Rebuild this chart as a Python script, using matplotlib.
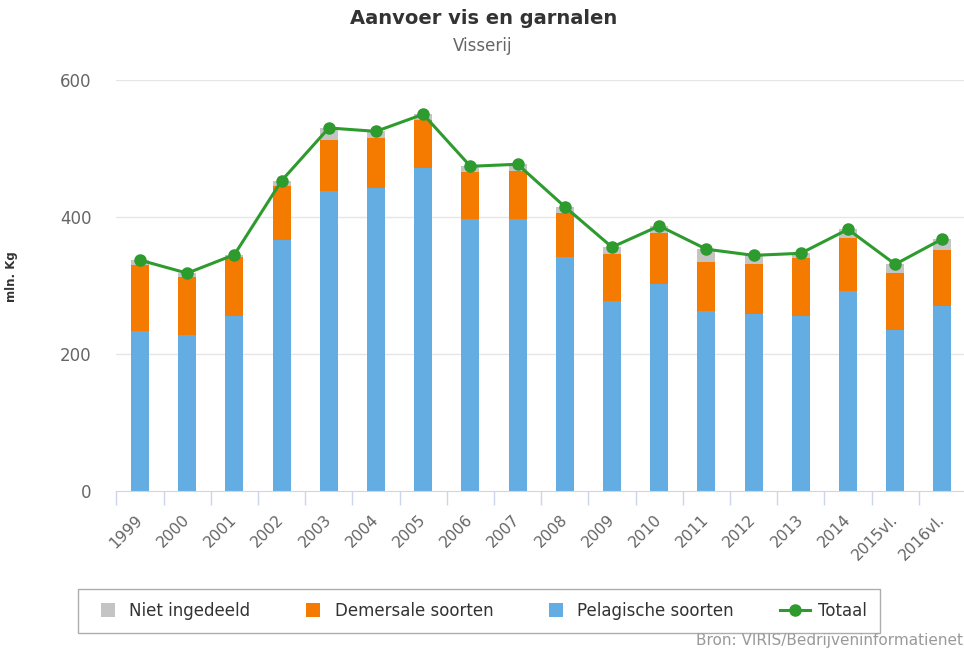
import matplotlib
matplotlib.use("Agg")
import matplotlib.pyplot as plt
from matplotlib.patches import Patch, Rectangle
from matplotlib.lines import Line2D
from matplotlib.legend_handler import HandlerPatch
import numpy as np

years = ["1999", "2000", "2001", "2002", "2003", "2004", "2005", "2006", "2007",
         "2008", "2009", "2010", "2011", "2012", "2013", "2014", "2015vl.", "2016vl."]
pelagisch = [234, 228, 256, 367, 438, 443, 472, 397, 397, 342, 278, 302, 263, 258, 256, 292, 235, 270]
demersaal = [96, 84, 85, 78, 75, 73, 70, 68, 70, 64, 68, 75, 72, 74, 84, 78, 83, 82]
niet_ingedeeld = [7, 6, 4, 8, 17, 9, 8, 9, 10, 9, 10, 10, 18, 12, 7, 12, 13, 16]
y_ticks = [0, 200, 400, 600]

c_blue = "#64ade3"
c_orange = "#f47a00"
c_grey = "#c4c4c4"
c_green = "#2e9b2e"
c_text = "#666666"

pel = np.array(pelagisch)
dem = np.array(demersaal)
niet = np.array(niet_ingedeeld)
totaal = pel + dem + niet

fig = plt.figure(figsize=(9.64, 6.53), dpi=100)
ax = fig.add_axes([116.4 / 964, 162 / 653, 849.6 / 964, 411 / 653])

x = np.arange(len(years))
w = 0.38
ax.bar(x, pel, w, color=c_blue, zorder=2)
ax.bar(x, dem, w, bottom=pel, color=c_orange, zorder=2)
ax.bar(x, niet, w, bottom=pel + dem, color=c_grey, zorder=2)
ax.plot(x, totaal, color=c_green, lw=2.2, marker="o", ms=8, zorder=3)

ax.set_xlim(-0.5, len(years) - 0.5)
ax.set_ylim(0, 600)
ax.set_yticks(y_ticks)
ax.set_yticklabels([str(t) for t in y_ticks], fontsize=12, color=c_text)
for t in y_ticks[1:]:
    ax.axhline(t, color="#e6e6e6", lw=1, zorder=1)

ax.set_xticks(x)
ax.set_xticklabels(years, rotation=45, ha="right", va="center",
                   rotation_mode="anchor", fontsize=11.2, color=c_text)
ax.set_xticks(np.arange(-0.5, len(years), 1), minor=True)
ax.tick_params(axis="x", which="major", length=0, pad=19)
ax.tick_params(axis="x", which="minor", length=10, color="#ccd6eb", width=1)
ax.tick_params(axis="y", length=0, pad=18)

for side in ("top", "right", "left"):
    ax.spines[side].set_visible(False)
ax.spines["bottom"].set_color("#ccd6eb")

ax.set_ylabel("mln. Kg", fontsize=8.5, fontweight="bold", color="#333333")
ax.yaxis.set_label_coords((18 - 116.4) / 849.6, (491 - 277) / 411)

fig.text(484 / 964, 1 - 19 / 653, "Aanvoer vis en garnalen", ha="center", va="center",
         fontsize=14, fontweight="bold", color="#333333")
fig.text(483 / 964, 1 - 46 / 653, "Visserij", ha="center", va="center",
         fontsize=12, color=c_text)


def square_patch(legend, orig_handle, xdescent, ydescent, width, height, fontsize):
    s = 0.85 * fontsize
    return Rectangle((width - s - 0.35 * fontsize - xdescent, height / 2 - s / 2 - ydescent), s, s)


handles = [
    Patch(facecolor=c_grey, edgecolor="none"),
    Patch(facecolor=c_orange, edgecolor="none"),
    Patch(facecolor=c_blue, edgecolor="none"),
    Line2D([], [], color=c_green, lw=2.2, marker="o", ms=8),
]
labels = ["Niet ingedeeld", "Demersale soorten", "Pelagische soorten", "Totaal"]
leg = fig.legend(handles, labels, loc="center", ncol=4,
                 bbox_to_anchor=(479 / 964, 1 - 611 / 653),
                 fontsize=12, frameon=True, fancybox=False, edgecolor="#999999",
                 handlelength=1.8, handletextpad=0.5, columnspacing=2.75,
                 borderpad=0.8, borderaxespad=0,
                 handler_map={Patch: HandlerPatch(patch_func=square_patch)})
leg.get_frame().set_linewidth(1)
for txt in leg.get_texts():
    txt.set_color("#333333")

fig.text(963 / 964, 1 - 640 / 653, "Bron: VIRIS/Bedrijveninformatienet", ha="right",
         va="center", fontsize=11, color="#999999")

fig.savefig("out.png", dpi=100)
